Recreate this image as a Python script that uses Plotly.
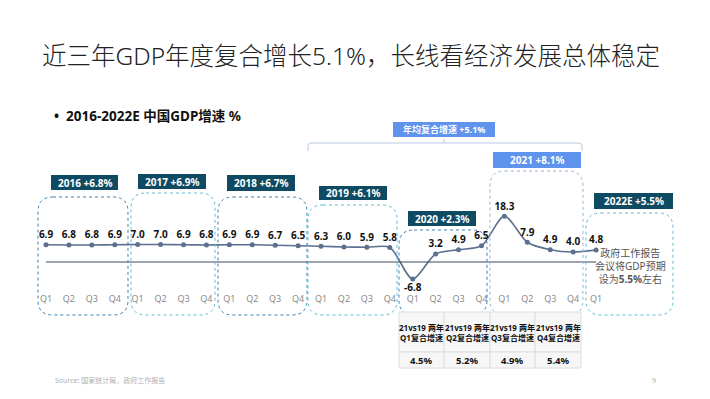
import plotly.graph_objects as go

# ---------------- data ----------------
years = ["2016", "2017", "2018", "2019", "2020", "2021", "2022E"]
year_labels = ["2016 +6.8%", "2017 +6.9%", "2018 +6.7%", "2019 +6.1%",
               "2020 +2.3%", "2021 +8.1%", "2022E +5.5%"]
quarters = ["Q1", "Q2", "Q3", "Q4"] * 6 + ["Q1"]
gdp = [6.9, 6.8, 6.8, 6.9,
       7.0, 7.0, 6.9, 6.8,
       6.9, 6.9, 6.7, 6.5,
       6.3, 6.0, 5.9, 5.8,
       -6.8, 3.2, 4.9, 6.5,
       18.3, 7.9, 4.9, 4.0,
       4.8]
cagr_label = "年均复合增速 +5.1%"
table_headers = ["21vs19 两年<br>Q1复合增速", "21vs19 两年<br>Q2复合增速",
                 "21vs19 两年<br>Q3复合增速", "21vs19 两年<br>Q4复合增速"]
table_values = ["4.5%", "5.2%", "4.9%", "5.4%"]

# ---------------- layout helpers ----------------
W, H = 710, 399
X0PIX, XSTEP = 46, 22.92
Y0PIX, YSCALE = 262, 2.5

def px(x):
    return x / W

def py(y):
    return 1 - y / H

FONT = "Noto Sans, Noto Sans CJK SC, sans-serif"
DARK = "#0e4a62"
LIGHTBLUE = "#5f93ee"
LINEC = "#5b6f8f"

def rrect_path(x0, y0, x1, y1, r):
    pts = [
        ("M", [(x0 + r, y0)]), ("L", [(x1 - r, y0)]), ("Q", [(x1, y0), (x1, y0 + r)]),
        ("L", [(x1, y1 - r)]), ("Q", [(x1, y1), (x1 - r, y1)]),
        ("L", [(x0 + r, y1)]), ("Q", [(x0, y1), (x0, y1 - r)]),
        ("L", [(x0, y0 + r)]), ("Q", [(x0, y0), (x0 + r, y0)]),
    ]
    s = ""
    for cmd, ps in pts:
        s += cmd + " " + " ".join(f"{px(a):.5f},{py(b):.5f}" for a, b in ps) + " "
    return s + "Z"

fig = go.Figure()

xs = list(range(len(gdp)))
textpos = ["bottom center" if v < 0 else "top center" for v in gdp]
fig.add_trace(go.Scatter(
    x=xs, y=gdp, mode="lines+markers+text",
    line=dict(color=LINEC, width=1.6, shape="spline", smoothing=0.8),
    marker=dict(color=LINEC, size=5),
    text=[f"{v:.1f}" for v in gdp], textposition=textpos,
    textfont=dict(family=FONT, size=10, color="#111111", weight="bold"),
    hoverinfo="skip", cliponaxis=False,
))
# quarter labels
fig.add_trace(go.Scatter(
    x=xs, y=[-15.2] * len(xs), mode="text", text=quarters,
    textfont=dict(family=FONT, size=9, color="#8a8a8a"),
    hoverinfo="skip", cliponaxis=False,
))

shapes = []
# zero line
shapes.append(dict(type="line", xref="x", yref="y", x0=0, x1=len(gdp) - 1, y0=0, y1=0,
                   line=dict(color="#3d4a5c", width=1)))

# year boxes
boxes = [(38, 128, 197, "#3f7fb0"), (131, 215, 193, "#62bcd6"), (218, 307, 197, "#3f7fb0"),
         (308, 397, 205, "#62bcd6"), (399, 487, 230, "#3f7fb0"), (490, 583, 171, "#95b6d6"),
         (586, 673, 213, "#62bcd6")]
for x0, x1, yt, c in boxes:
    shapes.append(dict(type="path", xref="paper", yref="paper",
                       path=rrect_path(x0, yt, x1, 315, 15),
                       line=dict(color=c, width=1, dash="dot")))

annotations = []
# year label boxes
lab_boxes = [(51, 118, 175, 190, DARK), (138, 206, 174, 189, DARK), (227, 295, 175, 191, DARK),
             (319, 387, 186, 200, DARK), (408, 476, 211, 226, DARK), (493, 581, 152, 168, LIGHTBLUE),
             (594, 673, 193, 209, DARK)]
for (x0, x1, y0, y1, c), t in zip(lab_boxes, year_labels):
    shapes.append(dict(type="rect", xref="paper", yref="paper", x0=px(x0), x1=px(x1),
                       y0=py(y1), y1=py(y0), fillcolor=c, line=dict(width=0)))
    annotations.append(dict(xref="paper", yref="paper", x=px((x0 + x1) / 2), y=py((y0 + y1) / 2),
                            text=t, showarrow=False, xanchor="center", yanchor="middle",
                            font=dict(family=FONT, size=10, color="white", weight="bold")))

# CAGR label and bracket
shapes.append(dict(type="rect", xref="paper", yref="paper", x0=px(393), x1=px(495),
                   y0=py(137), y1=py(122), fillcolor=LIGHTBLUE, line=dict(width=0)))
annotations.append(dict(xref="paper", yref="paper", x=px(444), y=py(129.5), text=cagr_label,
                        showarrow=False, xanchor="center", yanchor="middle",
                        font=dict(family=FONT, size=9, color="white", weight="bold")))
br = "M {} L {} Q {} {} L {} Q {} {} L {}".format(
    f"{px(308)},{py(151)}", f"{px(308)},{py(146)}", f"{px(308)},{py(143)}", f"{px(311)},{py(143)}",
    f"{px(579)},{py(143)}", f"{px(582)},{py(143)}", f"{px(582)},{py(146)}", f"{px(582)},{py(151)}")
shapes.append(dict(type="path", xref="paper", yref="paper", path=br,
                   line=dict(color="#b9c9e2", width=1)))
shapes.append(dict(type="line", xref="paper", yref="paper", x0=px(444), x1=px(444),
                   y0=py(143), y1=py(139), line=dict(color="#b9c9e2", width=1)))

# table
cols = [399, 444, 490, 535, 581]
for i in range(4):
    shapes.append(dict(type="rect", xref="paper", yref="paper", x0=px(cols[i]), x1=px(cols[i + 1]),
                       y0=py(352), y1=py(312), fillcolor="#f7f7f7", line=dict(color="#dedede", width=1)))
    shapes.append(dict(type="rect", xref="paper", yref="paper", x0=px(cols[i]), x1=px(cols[i + 1]),
                       y0=py(368), y1=py(352), fillcolor="#f7f7f7", line=dict(color="#dedede", width=1)))
    cx = px((cols[i] + cols[i + 1]) / 2)
    annotations.append(dict(xref="paper", yref="paper", x=cx, y=py(332), text=table_headers[i],
                            showarrow=False, xanchor="center", yanchor="middle",
                            font=dict(family=FONT, size=8, color="#111111", weight="bold")))
    annotations.append(dict(xref="paper", yref="paper", x=cx, y=py(360), text=table_values[i],
                            showarrow=False, xanchor="center", yanchor="middle",
                            font=dict(family=FONT, size=9.5, color="#111111", weight="bold")))

# right note
annotations.append(dict(xref="paper", yref="paper", x=px(630), y=py(266),
                        text="政府工作报告<br>会议将GDP预期<br>设为<b>5.5%</b>左右",
                        showarrow=False, xanchor="center", yanchor="middle", align="center",
                        font=dict(family=FONT, size=10, color="#555555")))

# title, subtitle, source, page number
annotations.append(dict(xref="paper", yref="paper", x=px(40), y=py(55),
                        text="近三年GDP年度复合增长5.1%，长线看经济发展总体稳定",
                        showarrow=False, xanchor="left", yanchor="middle",
                        font=dict(family=FONT, size=24.5, color="#222222", weight=300)))
annotations.append(dict(xref="paper", yref="paper", x=px(52), y=py(116),
                        text="•  2016-2022E 中国GDP增速 %",
                        showarrow=False, xanchor="left", yanchor="middle",
                        font=dict(family=FONT, size=13.5, color="#111111", weight="bold")))
annotations.append(dict(xref="paper", yref="paper", x=px(53), y=py(380),
                        text="Source: 国家统计局，政府工作报告",
                        showarrow=False, xanchor="left", yanchor="middle",
                        font=dict(family=FONT, size=7, color="#b0b0b0")))
annotations.append(dict(xref="paper", yref="paper", x=px(654), y=py(380), text="9",
                        showarrow=False, xanchor="center", yanchor="middle",
                        font=dict(family=FONT, size=7, color="#b0b0b0")))

xr = [-X0PIX / XSTEP, (W - X0PIX) / XSTEP]
yr = [-(H - Y0PIX) / YSCALE, Y0PIX / YSCALE]
fig.update_layout(
    width=W, height=H, margin=dict(l=0, r=0, t=0, b=0),
    paper_bgcolor="white", plot_bgcolor="white", showlegend=False,
    xaxis=dict(range=xr, visible=False, fixedrange=True),
    yaxis=dict(range=yr, visible=False, fixedrange=True),
    shapes=shapes, annotations=annotations,
)
fig.write_html("out.html", config={"displayModeBar": False},
               post_script="document.body.style.margin='0';document.body.style.overflow='hidden';")
